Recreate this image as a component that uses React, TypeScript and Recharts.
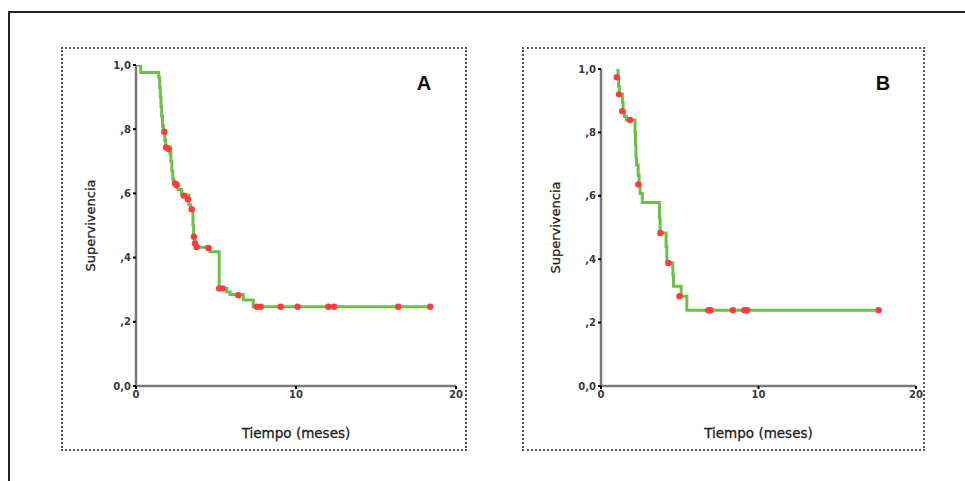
import React from 'react';
import { ComposedChart, Line, Scatter, XAxis, YAxis, Label } from 'recharts';

const timeTicks = [0, 10, 20];
const survTicks = [0, 0.2, 0.4, 0.6, 0.8, 1];
const survTickLabels = ['0,0', ',2', ',4', ',6', ',8', '1,0'];
const xTitle = 'Tiempo (meses)';
const yTitle = 'Supervivencia';

// Panel A – Kaplan-Meier steps
const stepTimesA = [0, 0.3, 1.42, 1.48, 1.52, 1.56, 1.6, 1.66, 1.72, 1.8, 1.86, 2.12, 2.18, 2.24, 2.3, 2.36, 2.62, 2.85, 3.3, 3.4, 3.56, 3.6, 3.66, 3.72, 4.63, 5.2, 5.67, 5.88, 6.71, 7.33, 18.38];
const stepSurvA = [1.0, 0.977, 0.96, 0.93, 0.9, 0.87, 0.84, 0.81, 0.79, 0.765, 0.745, 0.725, 0.7, 0.67, 0.645, 0.632, 0.612, 0.595, 0.565, 0.553, 0.5, 0.465, 0.445, 0.432, 0.418, 0.304, 0.293, 0.285, 0.268, 0.247, 0.247];
const censorTimesA = [1.77, 1.88, 2.05, 2.44, 2.54, 3.0, 3.25, 3.48, 3.62, 3.69, 3.79, 4.52, 5.2, 5.42, 6.39, 7.54, 7.79, 9.04, 10.1, 12.02, 12.38, 16.39, 18.38];
const censorSurvA = [0.792, 0.743, 0.738, 0.631, 0.626, 0.593, 0.582, 0.551, 0.465, 0.444, 0.433, 0.43, 0.304, 0.304, 0.283, 0.247, 0.247, 0.247, 0.247, 0.247, 0.247, 0.247, 0.247];

// Panel B – Kaplan-Meier steps
const stepTimesB = [1.04, 1.08, 1.12, 1.16, 1.36, 1.4, 1.5, 1.6, 2.16, 2.19, 2.22, 2.26, 2.36, 2.42, 2.48, 2.62, 3.71, 3.75, 4.13, 4.18, 4.56, 4.6, 5.09, 5.45, 17.63];
const stepSurvB = [1.0, 0.975, 0.945, 0.92, 0.895, 0.867, 0.85, 0.839, 0.8, 0.76, 0.72, 0.697, 0.665, 0.634, 0.607, 0.579, 0.53, 0.483, 0.44, 0.388, 0.35, 0.315, 0.283, 0.239, 0.239];
const censorTimesB = [1.0, 1.14, 1.35, 1.84, 2.37, 3.77, 4.28, 4.98, 6.82, 6.95, 8.37, 9.1, 9.28, 17.63];
const censorSurvB = [0.974, 0.92, 0.867, 0.839, 0.636, 0.483, 0.388, 0.283, 0.239, 0.239, 0.239, 0.239, 0.239, 0.239];

const zip = (ts: number[], ss: number[]) => ts.map((t, i) => ({ t, s: ss[i] }));

const FONT = '"DejaVu Sans", Verdana, sans-serif';

const fmtSurv = (v: number) => {
  const i = survTicks.findIndex((x) => Math.abs(x - v) < 1e-6);
  return i >= 0 ? survTickLabels[i] : String(v);
};

const YTitle = (props: any) => {
  const vb = props.viewBox || {};
  const cx = vb.x + vb.width - 46;
  const cy = vb.y + vb.height / 2;
  return (
    <text x={cx} y={cy} transform={`rotate(-90 ${cx} ${cy})`} textAnchor="middle" dominantBaseline="central" fontFamily={FONT} fontSize={13} fill="#222" stroke="#222" strokeWidth={0.3}>
      {yTitle}
    </text>
  );
};

const XTitle = (props: any) => {
  const vb = props.viewBox || {};
  const cx = vb.x + vb.width / 2;
  const cy = vb.y + 47;
  return (
    <text x={cx} y={cy} textAnchor="middle" dominantBaseline="central" fontFamily={FONT} fontSize={13.5} fill="#222" stroke="#222" strokeWidth={0.3}>
      {xTitle}
    </text>
  );
};

const Censor = (p: any) => <circle cx={p.cx} cy={p.cy} r={3.2} fill="#ff3b3b" />;

type PanelProps = {
  left: number; top: number; width: number; height: number;
  margin: { top: number; right: number; bottom: number; left: number };
  steps: { t: number; s: number }[];
  censors: { t: number; s: number }[];
  letter: string; letterX: number; letterY: number;
};

const tickStyle = { fontSize: 10, fill: '#3a3a3a', fontFamily: FONT, fontWeight: 'bold' as const };

const Panel = ({ left, top, width, height, margin, steps, censors, letter, letterX, letterY }: PanelProps) => (
  <>
    <div style={{ position: 'absolute', left, top, width: width - 4, height: height - 4, border: '2px dotted #555' }} />
    <div style={{ position: 'absolute', left, top, width, height }}>
      <ComposedChart width={width} height={height} margin={margin}>
        <XAxis
          dataKey="t" type="number" domain={[0, 20]} ticks={timeTicks} height={30}
          axisLine={{ stroke: '#7a7a7a', strokeWidth: 2.5 }}
          tickLine={{ stroke: '#000', strokeWidth: 2 }} tickSize={3}
          tick={tickStyle} tickMargin={2}
          allowDataOverflow
        >
          <Label content={XTitle} />
        </XAxis>
        <YAxis
          dataKey="s" type="number" domain={[0, 1]} ticks={survTicks} width={30}
          tickFormatter={fmtSurv}
          axisLine={{ stroke: '#7a7a7a', strokeWidth: 2.5 }}
          tickLine={{ stroke: '#000', strokeWidth: 2 }} tickSize={3}
          tick={tickStyle} tickMargin={2}
          allowDataOverflow
        >
          <Label content={YTitle} />
        </YAxis>
        <Line data={steps} dataKey="s" type="stepAfter" stroke="#6cc04a" strokeWidth={3} dot={false} isAnimationActive={false} />
        <Scatter data={censors} dataKey="s" shape={Censor} isAnimationActive={false} />
      </ComposedChart>
    </div>
    <div style={{ position: 'absolute', left: letterX, top: letterY, transform: 'translate(-50%, -50%)', fontFamily: '"Liberation Sans", Arial, sans-serif', fontWeight: 'bold', fontSize: 20, color: '#111' }}>
      {letter}
    </div>
  </>
);

export default function App() {
  return (
    <div style={{ position: 'absolute', left: 0, top: 0, width: 965, height: 481, overflow: 'hidden', background: '#fff' }}>
      <div style={{ position: 'absolute', left: 8, top: 11, width: 1000, height: 600, borderTop: '2px solid #222', borderLeft: '2px solid #222' }} />
      <Panel
        left={61} top={47} width={406} height={404}
        margin={{ top: 18, right: 11, bottom: 35, left: 45 }}
        steps={zip(stepTimesA, stepSurvA)} censors={zip(censorTimesA, censorSurvA)}
        letter="A" letterX={424} letterY={83}
      />
      <Panel
        left={522} top={47} width={403} height={404}
        margin={{ top: 22, right: 9, bottom: 35, left: 49 }}
        steps={zip(stepTimesB, stepSurvB)} censors={zip(censorTimesB, censorSurvB)}
        letter="B" letterX={883} letterY={83}
      />
    </div>
  );
}
